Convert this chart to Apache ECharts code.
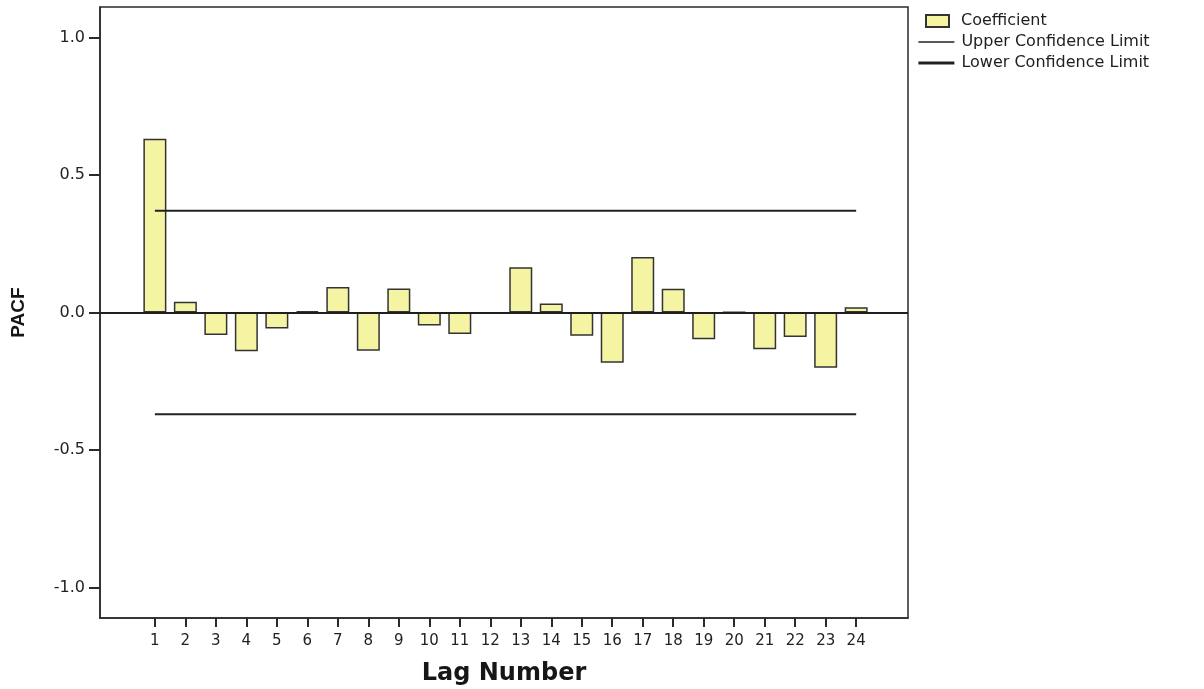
<!DOCTYPE html>
<html>
<head>
<meta charset="utf-8">
<title>PACF</title>
<script src="https://cdn.jsdelivr.net/npm/echarts@6/dist/echarts.min.js"></script>
<style>
  html, body { margin: 0; padding: 0; background: #ffffff; }
  #chart { width: 1204px; height: 689px; }
</style>
</head>
<body>
<div id="chart"></div>
<script>
// Lags shown on the horizontal axis
const lags = [1, 2, 3, 4, 5, 6, 7, 8, 9, 10, 11, 12, 13, 14, 15, 16, 17, 18, 19, 20, 21, 22, 23, 24];

// Partial autocorrelation coefficient for each lag
const pacf = [0.632, 0.039, -0.082, -0.141, -0.058, 0.005, 0.093, -0.139, 0.087, -0.047, -0.078, -0.001,
              0.165, 0.033, -0.085, -0.183, 0.202, 0.086, -0.097, 0.001, -0.134, -0.089, -0.201, 0.019];

// Confidence limits per lag
const upperLimit = [0.370, 0.370, 0.370, 0.370, 0.370, 0.370, 0.370, 0.370, 0.370, 0.370, 0.370, 0.370,
                    0.370, 0.370, 0.370, 0.370, 0.370, 0.370, 0.370, 0.370, 0.370, 0.370, 0.370, 0.370];
const lowerLimit = [-0.370, -0.370, -0.370, -0.370, -0.370, -0.370, -0.370, -0.370, -0.370, -0.370, -0.370, -0.370,
                    -0.370, -0.370, -0.370, -0.370, -0.370, -0.370, -0.370, -0.370, -0.370, -0.370, -0.370, -0.370];

// Value axis ticks
const yTicks = [-1.0, -0.5, 0.0, 0.5, 1.0];

const pair = (ys) => lags.map((lag, i) => [lag, ys[i]]);

const font = 'DejaVu Sans';
const ink = '#2a2a2a';
const legendText = { fontFamily: font, fontSize: 16, color: '#1e1e1e', lineHeight: 16 };

const chart = echarts.init(document.getElementById('chart'), null, { renderer: 'canvas' });

chart.setOption({
  animation: false,
  backgroundColor: '#ffffff',
  grid: {
    left: 100, top: 7, right: 296, bottom: 71,
    outerBoundsMode: 'none',
    show: true, borderColor: ink, borderWidth: 1.5, backgroundColor: 'transparent'
  },
  legend: [
    {
      data: [{ name: 'Coefficient', icon: 'rect' }],
      left: 925, top: 13, padding: 0,
      itemWidth: 23, itemHeight: 12,
      textStyle: Object.assign({ padding: [0, 0, 0, 7] }, legendText),
      selectedMode: false
    },
    {
      // line-only keys: the point marker is hidden, the stroke kept
      data: [
        { name: 'Upper Confidence Limit', lineStyle: { width: 1.3 }, itemStyle: { opacity: 0 } },
        { name: 'Lower Confidence Limit', lineStyle: { width: 2.8 }, itemStyle: { opacity: 0 } }
      ],
      orient: 'vertical',
      left: 917, top: 34, padding: 0,
      itemWidth: 36, itemHeight: 14, itemGap: 5,
      textStyle: Object.assign({ padding: [0, 0, 0, 2] }, legendText),
      selectedMode: false
    }
  ],
  xAxis: {
    type: 'value',
    min: -0.8, max: 25.7,
    name: 'Lag Number',
    nameLocation: 'middle',
    nameGap: 44,
    nameTextStyle: { fontFamily: font, fontWeight: 'bold', fontSize: 24, color: '#161616' },
    axisLine: { show: true, onZero: false, lineStyle: { color: ink, width: 1.5 } },
    axisTick: { show: true, customValues: lags, length: 9, lineStyle: { color: ink, width: 2 } },
    axisLabel: {
      customValues: lags, margin: 16,
      fontFamily: font, fontSize: 15, color: '#222'
    },
    splitLine: { show: false }
  },
  yAxis: {
    type: 'value',
    min: -1.111, max: 1.111,
    name: 'PACF',
    nameLocation: 'middle',
    nameRotate: 90,
    nameGap: 72,
    nameTextStyle: { fontFamily: 'Liberation Sans', fontWeight: 'bold', fontSize: 19, color: '#161616' },
    axisLine: { show: true, onZero: false, lineStyle: { color: ink, width: 1.5 } },
    axisTick: { show: true, customValues: yTicks, length: 11, lineStyle: { color: ink, width: 2 } },
    axisLabel: {
      customValues: yTicks, margin: 15,
      fontFamily: font, fontSize: 16, color: '#222',
      formatter: (v) => v.toFixed(1)
    },
    splitLine: { show: false }
  },
  series: [
    {
      name: 'Coefficient',
      type: 'bar',
      data: pair(pacf),
      barWidth: 23,
      itemStyle: { color: '#f4f4a3', borderColor: '#333', borderWidth: 1.5 },
      markLine: {
        silent: true,
        symbol: 'none',
        label: { show: false },
        lineStyle: { color: '#1e1e1e', width: 2, type: 'solid' },
        data: [{ yAxis: 0 }]
      },
      z: 2
    },
    {
      name: 'Upper Confidence Limit',
      type: 'line',
      data: pair(upperLimit),
      symbol: 'none',
      lineStyle: { color: '#222', width: 1.8 },
      itemStyle: { color: '#222' },
      z: 3
    },
    {
      name: 'Lower Confidence Limit',
      type: 'line',
      data: pair(lowerLimit),
      symbol: 'none',
      lineStyle: { color: '#222', width: 2 },
      itemStyle: { color: '#222' },
      z: 3
    }
  ]
});
</script>
</body>
</html>
